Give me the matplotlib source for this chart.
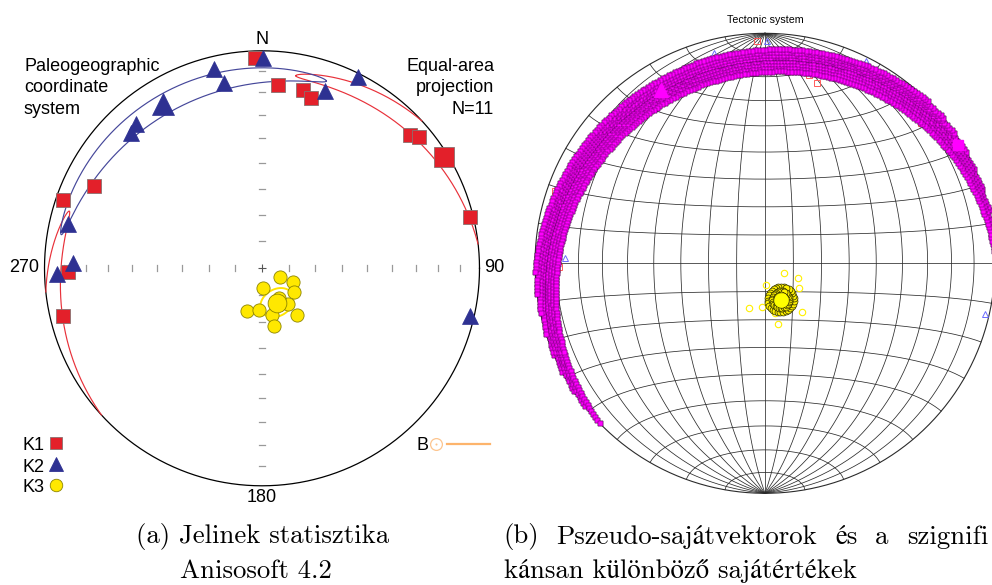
import numpy as np
import matplotlib
matplotlib.use("Agg")
import matplotlib.pyplot as plt

W, H = 992, 585

# %% Data: specimen principal directions (trend, plunge in degrees)
k1_trend = [358, 5, 13, 16, 48, 50, 76, 296, 289, 269, 256.5]
k1_plunge = [3.5, 16.7, 16.9, 19.6, 9.6, 6.4, 1.8, 15.0, 3.8, 11.6, 6.6]
k2_trend = [0.4, 346.5, 348.4, 319, 316, 26.5, 19.5, 283, 271.5, 268.3, 103]
k2_plunge = [3.8, 6.6, 14.2, 13.0, 14.6, 1.8, 14.4, 9.4, 14.0, 6.6, 2.2]
k3_trend = [116, 114, 178, 126, 144, 200, 184.5, 168, 143, 168, 150]
k3_plunge = [82.5, 77.3, 82.5, 75.0, 73.7, 73.1, 74.4, 72.2, 68.2, 67.9, 77]

# mean directions K1, K2, K3 and Jelinek confidence semi-angles
mean_trend = [58.5, 329, 156.5]
mean_plunge = [2.0, 13.0, 76.0]
ell_major = [49, 49, 6.5]
ell_minor = [4.5, 4.7, 5.0]

# bootstrap clouds (right panel): girdle band half-width, K3 cloud radius
band_half = 5.0
k3_cloud = 4.5

tick_plunges = [80, 70, 60, 50, 40, 30, 20, 10]
net_step = 10

red, navy, yellow = "#E3202A", "#2E3192", "#FFE800"


def vec(trend, plunge):
    t = np.radians(np.asarray(trend, float))
    p = np.radians(np.asarray(plunge, float))
    return np.stack([np.cos(p) * np.sin(t), np.cos(p) * np.cos(t), np.sin(p)], axis=-1)


def proj(v):
    v = np.atleast_2d(np.array(v, float))
    flip = v[:, 2] < 0
    v[flip] *= -1
    h = np.hypot(v[:, 0], v[:, 1])
    hs = np.where(h > 0, h, 1)
    r = np.sqrt(np.clip(1 - v[:, 2], 0, None))
    x = np.where(h > 0, r * v[:, 0] / hs, 0)
    y = np.where(h > 0, r * v[:, 1] / hs, 0)
    return x, y, flip


def curve(v):
    x, y, flip = proj(v)
    brk = np.where(np.diff(flip.astype(int)) != 0)[0] + 1
    return np.insert(x, brk, np.nan), np.insert(y, brk, np.nan)


def cone(i, j, n=1441):
    m = vec(mean_trend[i], mean_plunge[i])
    u = vec(mean_trend[j], mean_plunge[j])
    u = u - m * np.dot(u, m)
    u /= np.linalg.norm(u)
    w = np.cross(m, u)
    th = np.linspace(0, 2 * np.pi, n)
    pts = (m + np.tan(np.radians(ell_major[i])) * np.cos(th)[:, None] * u
           + np.tan(np.radians(ell_minor[i])) * np.sin(th)[:, None] * w)
    pts /= np.linalg.norm(pts, axis=1)[:, None]
    return curve(pts)


fig = plt.figure(figsize=(W / 100, H / 100), dpi=100)


def net_axes(cx, cy, R, half):
    ax = fig.add_axes([(cx - half) / W, 1 - (cy + half) / H, 2 * half / W, 2 * half / H])
    lim = half / R
    ax.set_xlim(-lim, lim)
    ax.set_ylim(-lim, lim)
    ax.axis("off")
    return ax


def ft(px, py, s, **kw):
    return fig.text(px / W, 1 - py / H, s, **kw)


sans = "Liberation Sans"
th = np.linspace(0, 2 * np.pi, 721)

# %% Left: Jelinek statistics
LCX, LCY, LR = 262, 268.3, 217.5
ax = net_axes(LCX, LCY, LR, 262)
ax.plot(np.cos(th), np.sin(th), color="k", lw=0.9)
rt = np.sqrt(1 - np.sin(np.radians(tick_plunges)))
tl = 2.8 / LR
for s in (-1, 1):
    for r in rt:
        ax.plot([s * r, s * r], [-tl, tl], color="#999999", lw=0.9)
        ax.plot([-tl, tl], [s * r, s * r], color="#999999", lw=0.9)
ax.plot([0], [0], "+", color="#555555", ms=6, mew=0.8)

x, y = cone(0, 1)
ax.plot(x, y, color="#E8313A", lw=0.85)
x, y = cone(1, 0)
ax.plot(x, y, color="#45479A", lw=0.85)
x, y = cone(2, 0)
ax.plot(x, y, color="#FFE400", lw=1.4)

x, y, _ = proj(vec(k3_trend, k3_plunge))
ax.plot(x, y, "o", ms=9.5, mfc=yellow, mec="#8C8400", mew=0.6, ls="none")
x, y, _ = proj(vec(k1_trend, k1_plunge))
ax.plot(x, y, "s", ms=10, mfc=red, mec="#8A7070", mew=0.6, ls="none")
x, y, _ = proj(vec(k2_trend, k2_plunge))
ax.plot(x, y, "^", ms=11, mfc=navy, mec=navy, mew=0.5, ls="none")
x, y, _ = proj(vec(mean_trend, mean_plunge))
ax.plot(x[2], y[2], "o", ms=13.5, mfc=yellow, mec="#8C8400", mew=0.6)
ax.plot(x[0], y[0], "s", ms=14.5, mfc=red, mec="#8A7070", mew=0.6)
ax.plot(x[1], y[1], "^", ms=15.5, mfc=navy, mec=navy, mew=0.5)

ft(262, 40, "N", ha="center", va="center", fontsize=13, family=sans)
ft(39, 268, "270", ha="right", va="center", fontsize=13, family=sans)
ft(484, 268, "90", ha="left", va="center", fontsize=13, family=sans)
ft(262, 498, "180", ha="center", va="center", fontsize=13, family=sans)
ft(24, 88, "Paleogeographic\ncoordinate\nsystem", ha="left", va="center",
   fontsize=13, family=sans, linespacing=1.38)
ft(494, 88, "Equal-area\nprojection\nN=11", ha="right", va="center",
   fontsize=13, family=sans, linespacing=1.38)

# legend
for lab, mk, fc, ec, yy, ms in [("K1", "s", red, "#8A7070", 446, 9),
                                ("K2", "^", navy, navy, 467, 9.5),
                                ("K3", "o", yellow, "#8C8400", 488, 9)]:
    ft(22, yy, lab, ha="left", va="center", fontsize=13, family=sans)
    ax.plot([(56 - LCX) / LR], [(LCY - yy + 3) / LR], mk, ms=ms, mfc=fc, mec=ec,
            mew=0.6, clip_on=False)
ft(422, 446, "B", ha="center", va="center", fontsize=13, family=sans)
bx, by = (436 - LCX) / LR, (LCY - 444.5) / LR
ax.plot([bx], [by], "o", ms=8.5, mfc="none", mec="#FDC58F", mew=0.9, clip_on=False)
ax.plot([bx], [by], "o", ms=1.5, mfc="#FDC58F", mec="none", clip_on=False)
ax.plot([(447 - LCX) / LR, (490 - LCX) / LR], [by, by], color="#FDB46C", lw=1.6,
        clip_on=False)

# %% Right: bootstrap pseudo-eigenvectors on a Schmidt net
RCX, RCY, RR = 765, 263.3, 230
bx_ = net_axes(RCX, RCY, RR, 260)
ang = np.radians(np.arange(net_step, 180, net_step))
t = np.linspace(0, np.pi, 361)
for d in ang:
    g = np.outer(np.cos(t), [0, 1, 0]) + np.outer(np.sin(t), [np.cos(d), 0, np.sin(d)])
    x, y, _ = proj(g)
    bx_.plot(x, y, color="#2b2b2b", lw=0.55)
    s = np.stack([np.sin(d) * np.cos(t), np.full_like(t, np.cos(d)), np.sin(d) * np.sin(t)], axis=1)
    x, y, _ = proj(s)
    bx_.plot(x, y, color="#2b2b2b", lw=0.55)
bx_.plot(np.cos(th), np.sin(th), color="#2b2b2b", lw=0.8)

x, y, _ = proj(vec(k1_trend, k1_plunge))
bx_.plot(x, y, "s", ms=4.3, mfc="none", mec="#FF5a5a", mew=0.7, ls="none")
x, y, _ = proj(vec(k2_trend, k2_plunge))
bx_.plot(x, y, "^", ms=5, mfc="none", mec="#6B6BFF", mew=0.7, ls="none")
x, y, _ = proj(vec(k3_trend, k3_plunge))
bx_.plot(x, y, "o", ms=4.6, mfc="none", mec="#FFF000", mew=0.8, ls="none")

# girdle band (perpendicular to mean K3)
p = vec(mean_trend[2], mean_plunge[2])
e1 = np.cross(p, [0, 0, 1.0])
e1 /= np.linalg.norm(e1)
e2 = np.cross(p, e1)
s_al = np.radians(np.arange(0, 360, 0.9))
offs = np.radians(np.linspace(-band_half, band_half, 9))
for o in offs:
    g = np.cos(o) * (np.outer(np.cos(s_al), e1) + np.outer(np.sin(s_al), e2)) + np.sin(o) * p
    x, y, _ = proj(g)
    bx_.plot(x, y, "s", ms=3.6, mfc="#FF00FF", mec="#5a005a", mew=0.35, ls="none")

x, y, _ = proj(vec(mean_trend, mean_plunge))
bx_.plot(x[1], y[1], "^", ms=10.5, mfc="#FF00FF", mec="#FF00FF")
bx_.plot(x[0], y[0], "s", ms=7.5, mfc="#FF00FF", mec="#FF00FF")

# K3 bootstrap cloud
m = vec(mean_trend[2], mean_plunge[2])
u = vec(mean_trend[0], mean_plunge[0])
u = u - m * np.dot(u, m)
u /= np.linalg.norm(u)
w = np.cross(m, u)
for rr in (k3_cloud, 0.66 * k3_cloud, 0.33 * k3_cloud):
    a = np.radians(np.arange(45, 405, 12))
    c = m + np.tan(np.radians(rr)) * (np.outer(np.cos(a), u) + np.outer(np.sin(a), w))
    x, y, _ = proj(c / np.linalg.norm(c, axis=1)[:, None])
    bx_.plot(x, y, "o", ms=5, mfc="#FFF200", mec="#2b2b00", mew=0.5, ls="none")
x, y, _ = proj(m)
bx_.plot(x, y, "o", ms=9.5, mfc="#FFFF00", mec="#FFFF00")

ft(765, 20, "Tectonic system", ha="center", va="center", fontsize=7.7, family=sans)

# %% Captions (LaTeX-like, first line of (b) justified)
cap = dict(fontsize=19.3, family=["cmr10", "STIXGeneral"], va="center")
ft(263, 537, "(a) Jelinek statisztika", ha="center", **cap)
ft(256, 571, "Anisosoft 4.2", ha="center", **cap)
words = ["(b)", "Pszeudo-sajátvektorok", "és", "a", "szignifi"]
ts = [ft(0, 537, wd, ha="left", **cap) for wd in words]
rend = fig.canvas.get_renderer()
wid = [tt.get_window_extent(rend).width for tt in ts]
gap = (988 - 503 - sum(wid)) / (len(words) - 1)
xx = 503
for tt, wv in zip(ts, wid):
    tt.set_x(xx / W)
    xx += wv + gap
ft(504, 571, "kánsan különböző sajátértékek", ha="left", **cap)

fig.savefig("out.png", dpi=100)
